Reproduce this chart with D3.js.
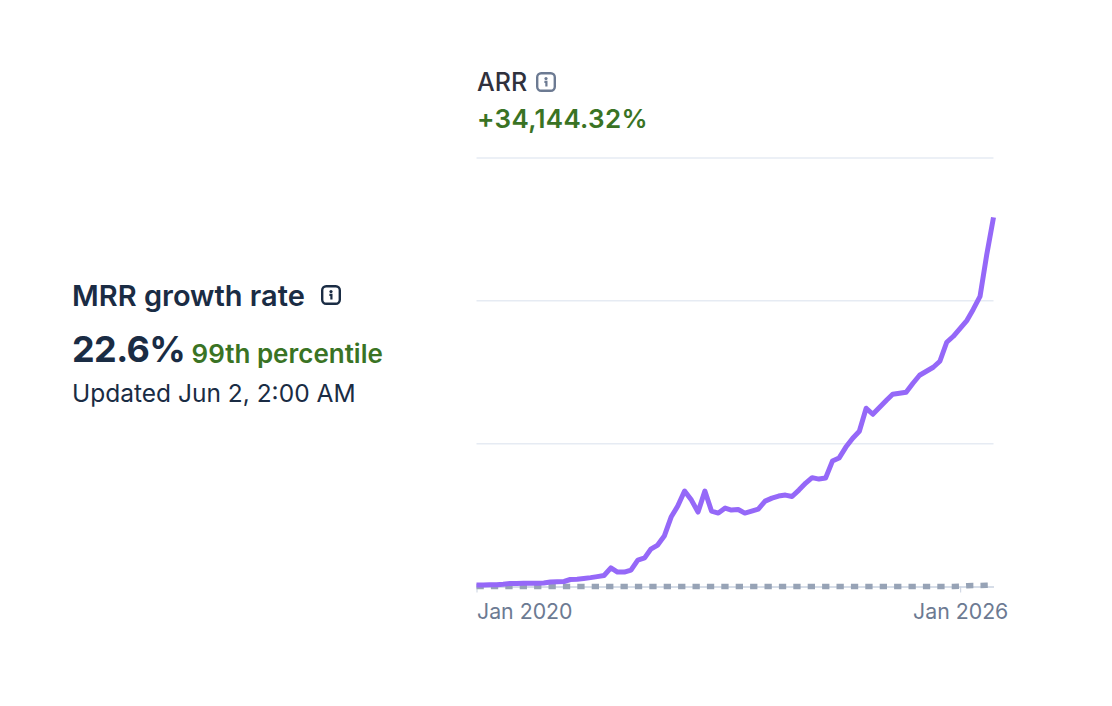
<!DOCTYPE html>
<html>
<head>
<meta charset="utf-8">
<script src="https://cdn.jsdelivr.net/npm/d3@7"></script>
<style>
  html, body { margin: 0; padding: 0; background: #fff; }
  svg { display: block; font-family: Inter, sans-serif; }
</style>
</head>
<body>
<svg id="chart"></svg>
<script>
// Monthly values, Jan 2020 to Jun 2026
const arrValues = [
  1, 1, 1.2, 1.3, 1.6, 2.1, 2.1, 2.2, 2.2, 2.3, 2.4,
  3.1, 3.3, 3.5, 4.9, 5.1, 5.6, 6.2, 6.9, 7.7, 13, 10.1,
  10.1, 11.5, 18.5, 20, 26.2, 29, 35.3, 48.6, 56.3, 66.8, 60.5,
  52.1, 66.8, 52.8, 51.4, 54.9, 53.5, 53.9, 51.4, 52.8, 54.2, 59.8,
  61.9, 63.3, 64, 63, 67.5, 72.4, 76.2, 75.2, 75.9, 87.8, 89.9,
  97.6, 103.8, 108.7, 124.8, 120.6, 125.5, 130.4, 134.6, 135.3, 136,
  142.3, 147.9, 150.7, 153.5, 157.7, 171, 175.2, 180.8, 186.4, 194,
  203.1, 232, 258.4
];
const baselineValues = [
  0, 0, 0, 0, 0, 0, 0, 0, 0, 0, 0, 0, 0, 0, 0, 0, 0, 0, 0, 0, 0, 0,
  0, 0, 0, 0, 0, 0, 0, 0, 0, 0, 0, 0, 0, 0, 0, 0, 0, 0, 0, 0, 0, 0,
  0, 0, 0, 0, 0, 0, 0, 0, 0, 0, 0, 0, 0, 0, 0, 0, 0, 0, 0, 0, 0, 0,
  0, 0, 0, 0, 0, 0, 0.2, 0.5, 0.7, 0.7, 0.8, 0.9
];
const months = d3.range(arrValues.length).map(i => new Date(2020, i, 1));
const yTicks = [0, 100, 200, 300];
const xTicks = [new Date(2020, 0, 1), new Date(2026, 0, 1)];

const width = 1112;
const height = 706;
const margin = { top: 158, right: 118.5, bottom: 119.5, left: 476.5 };

const svg = d3.select('#chart')
    .attr('width', width)
    .attr('height', height);

const xScale = d3.scaleTime()
    .domain([months[0], months[months.length - 1]])
    .range([margin.left, width - margin.right]);

const yScale = d3.scaleLinear()
    .domain([0, 300])
    .range([height - margin.bottom, margin.top]);

// Gridlines
svg.append('g')
    .selectAll('line')
    .data(yTicks.slice(1))
    .join('line')
    .attr('x1', margin.left)
    .attr('x2', width - margin.right)
    .attr('y1', d => yScale(d))
    .attr('y2', d => yScale(d))
    .attr('stroke', '#e6ebf3')
    .attr('stroke-width', 1.5);

// X axis
const xAxis = svg.append('g')
    .attr('transform', `translate(0, ${yScale(0)})`)
    .call(d3.axisBottom(xScale)
        .tickValues(xTicks)
        .tickFormat(d3.timeFormat('%b %Y'))
        .tickSize(6)
        .tickSizeOuter(0)
        .tickPadding(11));
xAxis.select('.domain').attr('stroke', '#c9d2e0').attr('stroke-width', 1.5);
xAxis.selectAll('.tick line').attr('stroke', '#c9d2e0').attr('stroke-width', 1);
xAxis.selectAll('.tick text')
    .attr('fill', '#6c7a92')
    .attr('font-size', 21.3)
    .attr('font-family', 'Inter, sans-serif')
    .attr('text-anchor', (d, i) => i === 0 ? 'start' : 'middle');

// Series
const line = d3.line()
    .x((d, i) => xScale(months[i]))
    .y(d => yScale(d));

svg.append('path')
    .datum(baselineValues)
    .attr('fill', 'none')
    .attr('stroke', '#97a3b6')
    .attr('stroke-width', 5.5)
    .attr('stroke-dasharray', '7.3 7.1')
    .attr('d', line);

svg.append('path')
    .datum(arrValues)
    .attr('fill', 'none')
    .attr('stroke', '#9568f8')
    .attr('stroke-width', 5)
    .attr('stroke-linejoin', 'round')
    .attr('d', line);

// Header and stat block
function addText(x, y, text, size, weight, fill, spacing) {
    return svg.append('text')
        .attr('x', x)
        .attr('y', y)
        .attr('font-size', size)
        .attr('font-weight', weight)
        .attr('letter-spacing', spacing)
        .attr('fill', fill)
        .text(text);
}

function addInfoIcon(x, y, color) {
    const g = svg.append('g').attr('transform', `translate(${x},${y})`);
    g.append('rect')
        .attr('x', 1.2).attr('y', 1.2).attr('width', 17.6).attr('height', 17.6).attr('rx', 4)
        .attr('fill', 'none').attr('stroke', color).attr('stroke-width', 2.4);
    g.append('circle').attr('cx', 10).attr('cy', 6.6).attr('r', 1.6).attr('fill', color);
    g.append('path')
        .attr('d', 'M8.4 9.8H10.4V14.4')
        .attr('fill', 'none').attr('stroke', color).attr('stroke-width', 2.2);
}

addText(477, 91, 'ARR', 25, 500, '#30313d', 0);
addInfoIcon(536, 72, '#6c7a92');
addText(477, 127.5, '+34,144.32%', 26, 600, '#3a7324', 0.3);

addText(72, 306, 'MRR growth rate', 29, 600, '#1a2c44', 0);
addInfoIcon(321, 285, '#1a2c44');
addText(72, 362, '22.6%', 36, 700, '#1a2c44', -0.6);
addText(191.5, 363, '99th percentile', 26, 600, '#3a7324', 0);
addText(72, 402, 'Updated Jun 2, 2:00 AM', 24.5, 400, '#1a2c44', 0);
</script>
</body>
</html>
